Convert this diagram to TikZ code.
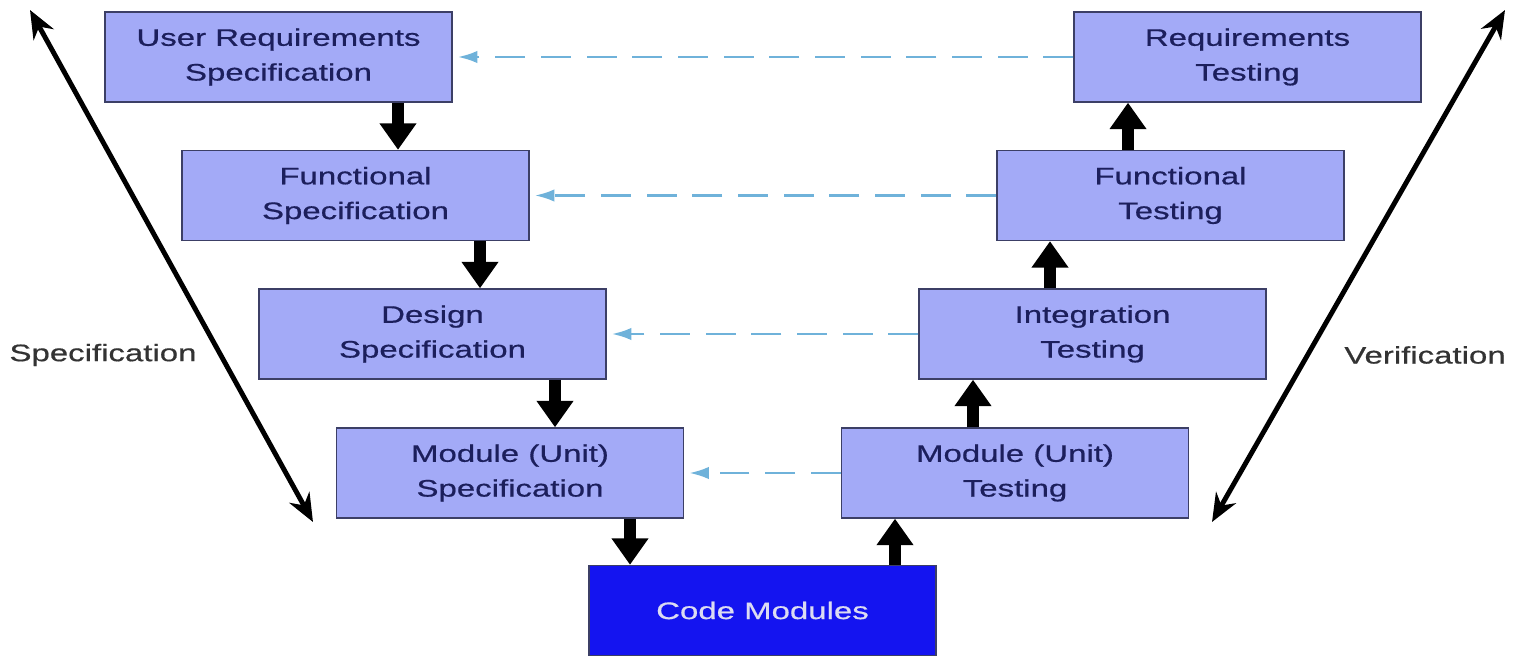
\documentclass[tikz,border=0pt]{standalone}
\usepackage{fontspec}
\setmainfont{Liberation Sans}
\newfontfamily\widefont[FakeStretch=1.38,FakeBold=0.6]{Liberation Sans}
\usetikzlibrary{arrows.meta}
\definecolor{boxfill}{HTML}{A3AAF7}
\definecolor{boxline}{HTML}{3C3F66}
\definecolor{boxtext}{HTML}{1C1F5C}
\definecolor{codefill}{HTML}{1414F0}
\definecolor{codetext}{HTML}{DCDCF2}
\definecolor{dashblue}{HTML}{6FB2DA}
\definecolor{labeltext}{HTML}{333333}
\tikzset{
  vbox/.style={draw=boxline, line width=0.8pt, fill=boxfill, text=boxtext,
    minimum width=6.94cm, minimum height=1.8cm, align=center,
    font=\widefont\fontsize{13.6}{19.8}\selectfont, inner sep=0pt},
  codebox/.style={vbox, fill=codefill, text=codetext},
  bigarrow/.style={line width=6.8pt, black, -{Triangle[width=20pt,length=15pt]}},
  backarrow/.style={dashblue, line width=1.3pt, dash pattern=on 17pt off 9pt,
    -{Latex[width=7pt,length=11pt]}},
  diagarrow/.style={line width=2.8pt, black, {Stealth[width=13pt,length=16pt]}-{Stealth[width=13pt,length=16pt]}},
  sidelabel/.style={text=labeltext, font=\widefont\fontsize{13.6}{16}\selectfont, inner sep=0pt}
}
\begin{document}
\begin{tikzpicture}[x=0.02cm, y=-0.02cm]
\useasboundingbox (0,0) rectangle (1527,668);
\node[vbox] (urs) at (278.5,57) {User Requirements\\Specification};
\node[vbox] (rt) at (1247.5,57) {Requirements\\Testing};
\node[vbox] (fs) at (355.5,195.5) {Functional\\Specification};
\node[vbox] (ft) at (1170.5,195.5) {Functional\\Testing};
\node[vbox] (ds) at (432.5,334) {Design\\Specification};
\node[vbox] (it) at (1092.5,334) {Integration\\Testing};
\node[vbox] (ms) at (510,473) {Module (Unit)\\Specification};
\node[vbox] (mt) at (1015,473) {Module (Unit)\\Testing};
\node[codebox] (code) at (762.5,610.5) {Code Modules};

\draw[bigarrow] (urs.south -| 398,0) -- (fs.north -| 398,0);
\draw[bigarrow] (fs.south -| 480,0) -- (ds.north -| 480,0);
\draw[bigarrow] (ds.south -| 555,0) -- (ms.north -| 555,0);
\draw[bigarrow] (ms.south -| 630,0) -- (code.north -| 630,0);
\draw[bigarrow] (code.north -| 895,0) -- (mt.south -| 895,0);
\draw[bigarrow] (mt.north -| 973,0) -- (it.south -| 973,0);
\draw[bigarrow] (it.north -| 1050,0) -- (ft.south -| 1050,0);
\draw[bigarrow] (ft.north -| 1128,0) -- (rt.south -| 1128,0);

\draw[backarrow] (rt.west) -- ([xshift=3pt]urs.east);
\draw[backarrow] (ft.west) -- ([xshift=3pt]fs.east);
\draw[backarrow] (it.west) -- ([xshift=3pt]ds.east);
\draw[backarrow] (mt.west) -- ([xshift=3pt]ms.east);

\coordinate (lt) at (30,10);
\coordinate (lb) at (313,522);
\coordinate (rtop) at (1505,10);
\coordinate (rb) at (1212,522);
\draw[diagarrow] (lt) -- (lb);
\draw[diagarrow] (rtop) -- (rb);

\node[sidelabel] (speclab) at (103,355) {Specification};
\node[sidelabel] (verlab) at (1425,355) {Verification};
\end{tikzpicture}
\end{document}
